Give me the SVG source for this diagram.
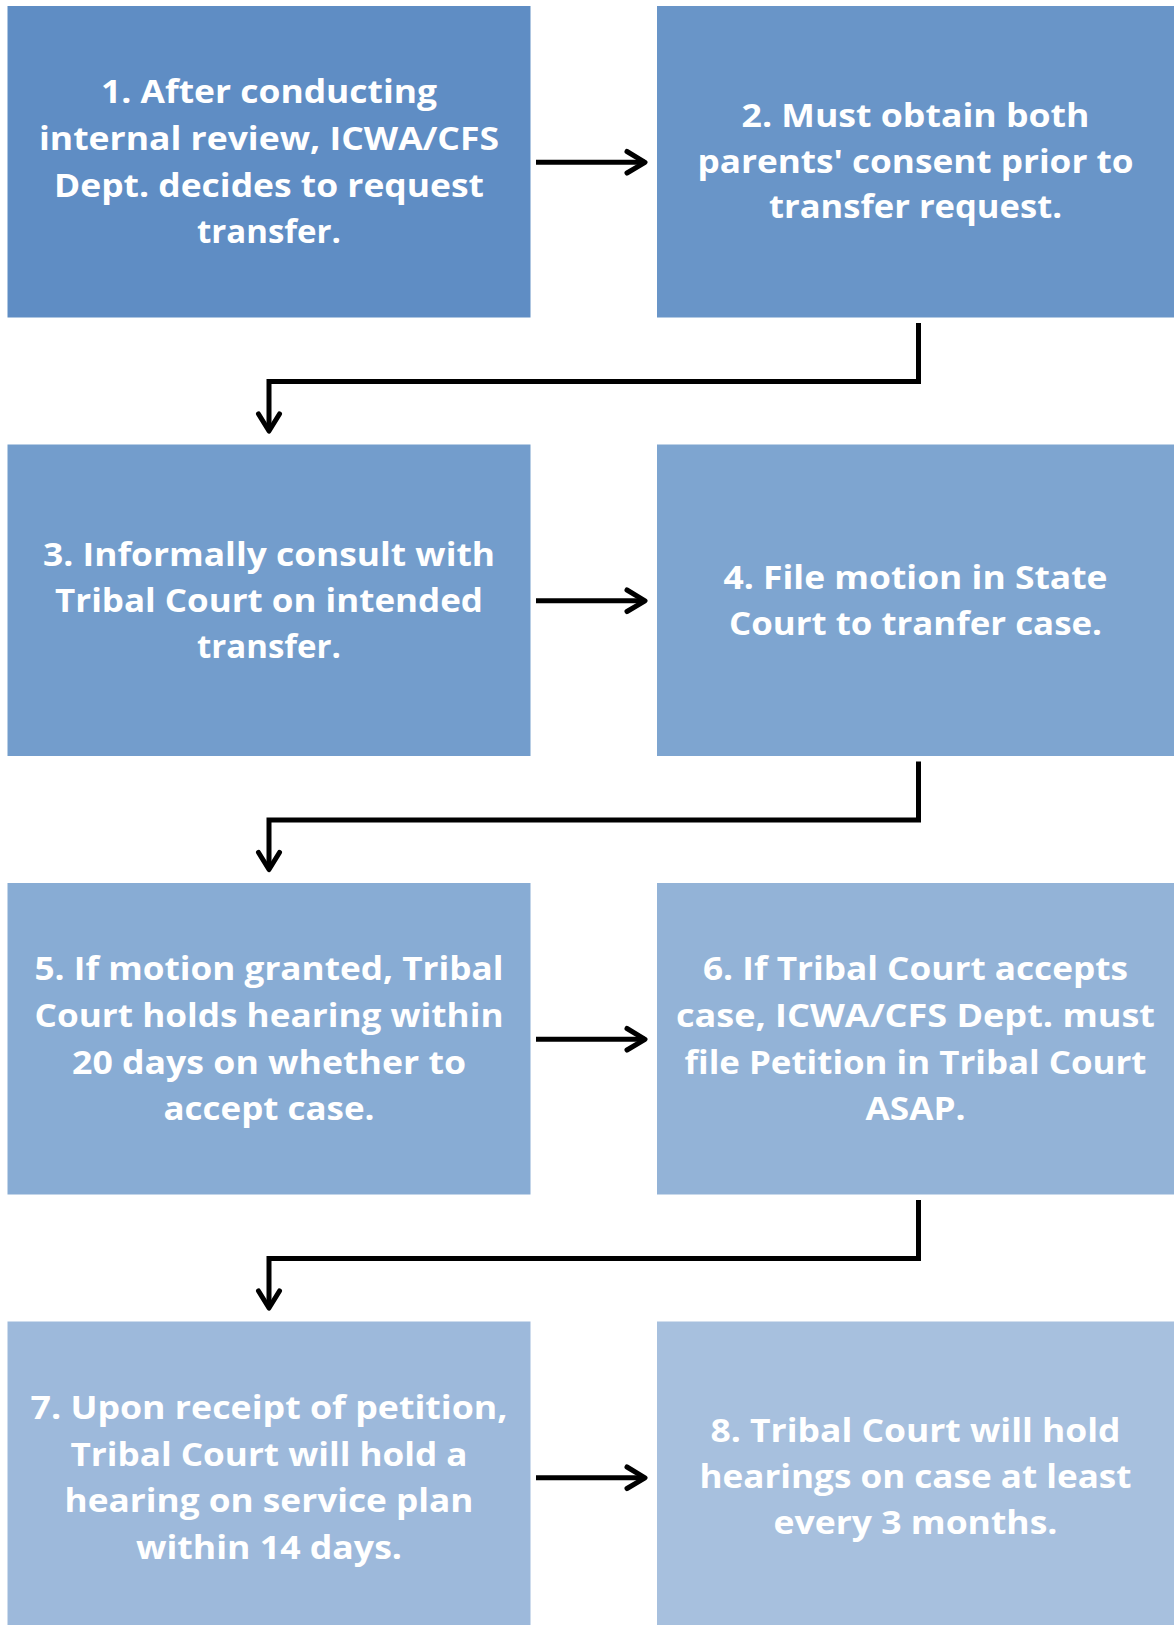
<svg xmlns="http://www.w3.org/2000/svg" width="1174" height="1625" viewBox="0 0 1174 1625">
<defs>
<style>
.t{font-family:"Open Sans",Lato,"Liberation Sans",sans-serif;font-weight:700;font-size:33px;fill:#ffffff;text-anchor:middle}
.c{fill:none;stroke:#000;stroke-width:5;stroke-linejoin:miter}
.h{fill:none;stroke:#000;stroke-width:5;stroke-linecap:round;stroke-linejoin:round}
</style>
</defs>
<rect width="1174" height="1625" fill="#ffffff"/>
<g id="node1"><rect x="7.5" y="6" width="523" height="311.5" fill="#5f8dc4"/>
<text class="t" x="269" y="103.3" textLength="336" lengthAdjust="spacingAndGlyphs">1. After conducting</text>
<text class="t" x="269" y="150" textLength="460" lengthAdjust="spacingAndGlyphs">internal review, ICWA/CFS</text>
<text class="t" x="269" y="196.7" textLength="430" lengthAdjust="spacingAndGlyphs">Dept. decides to request</text>
<text class="t" x="269" y="243.3" textLength="144" lengthAdjust="spacingAndGlyphs">transfer.</text></g>
<g id="node2"><rect x="657" y="6" width="517" height="311.5" fill="#6995c8"/>
<text class="t" x="915.5" y="126.7" textLength="348" lengthAdjust="spacingAndGlyphs">2. Must obtain both</text>
<text class="t" x="915.5" y="172.7" textLength="436" lengthAdjust="spacingAndGlyphs">parents' consent prior to</text>
<text class="t" x="915.5" y="218.3" textLength="293" lengthAdjust="spacingAndGlyphs">transfer request.</text></g>
<g id="node3"><rect x="7.5" y="444.5" width="523" height="311.5" fill="#739dcc"/>
<text class="t" x="269" y="565.5" textLength="452" lengthAdjust="spacingAndGlyphs">3. Informally consult with</text>
<text class="t" x="269" y="612" textLength="428" lengthAdjust="spacingAndGlyphs">Tribal Court on intended</text>
<text class="t" x="269" y="658" textLength="144" lengthAdjust="spacingAndGlyphs">transfer.</text></g>
<g id="node4"><rect x="657" y="444.5" width="517" height="311.5" fill="#7ea5d0"/>
<text class="t" x="915.5" y="589.3" textLength="384" lengthAdjust="spacingAndGlyphs">4. File motion in State</text>
<text class="t" x="915.5" y="635" textLength="373" lengthAdjust="spacingAndGlyphs">Court to tranfer case.</text></g>
<g id="node5"><rect x="7.5" y="883" width="523" height="311.5" fill="#88acd4"/>
<text class="t" x="269" y="980.2" textLength="469" lengthAdjust="spacingAndGlyphs">5. If motion granted, Tribal</text>
<text class="t" x="269" y="1026.8" textLength="469" lengthAdjust="spacingAndGlyphs">Court holds hearing within</text>
<text class="t" x="269" y="1073.5" textLength="394" lengthAdjust="spacingAndGlyphs">20 days on whether to</text>
<text class="t" x="269" y="1120.2" textLength="211" lengthAdjust="spacingAndGlyphs">accept case.</text></g>
<g id="node6"><rect x="657" y="883" width="517" height="311.5" fill="#93b3d7"/>
<text class="t" x="915.5" y="980.2" textLength="425" lengthAdjust="spacingAndGlyphs">6. If Tribal Court accepts</text>
<text class="t" x="915.5" y="1026.8" textLength="479" lengthAdjust="spacingAndGlyphs">case, ICWA/CFS Dept. must</text>
<text class="t" x="915.5" y="1073.5" textLength="462" lengthAdjust="spacingAndGlyphs">file Petition in Tribal Court</text>
<text class="t" x="915.5" y="1120.2" textLength="100" lengthAdjust="spacingAndGlyphs">ASAP.</text></g>
<g id="node7"><rect x="7.5" y="1321.5" width="523" height="303.5" fill="#9db9db"/>
<text class="t" x="269" y="1418.8" textLength="477" lengthAdjust="spacingAndGlyphs">7. Upon receipt of petition,</text>
<text class="t" x="269" y="1465.5" textLength="397" lengthAdjust="spacingAndGlyphs">Tribal Court will hold a</text>
<text class="t" x="269" y="1512.2" textLength="409" lengthAdjust="spacingAndGlyphs">hearing on service plan</text>
<text class="t" x="269" y="1558.8" textLength="266" lengthAdjust="spacingAndGlyphs">within 14 days.</text></g>
<g id="node8"><rect x="657" y="1321.5" width="517" height="303.5" fill="#a7c0de"/>
<text class="t" x="915.5" y="1442.2" textLength="410" lengthAdjust="spacingAndGlyphs">8. Tribal Court will hold</text>
<text class="t" x="915.5" y="1488.2" textLength="432" lengthAdjust="spacingAndGlyphs">hearings on case at least</text>
<text class="t" x="915.5" y="1533.8" textLength="284" lengthAdjust="spacingAndGlyphs">every 3 months.</text></g>
<g id="connectors">
<path class="c" d="M536 162.3H645"/><path class="h" d="M627 151.5L645 162.3L627 173"/>
<path class="c" d="M536 600.8H645"/><path class="h" d="M627 590L645 600.8L627 611.5"/>
<path class="c" d="M536 1039.3H645"/><path class="h" d="M627 1028.5L645 1039.3L627 1050"/>
<path class="c" d="M536 1477.8H645"/><path class="h" d="M627 1467L645 1477.8L627 1488.5"/>
<path class="c" d="M918.5 323V381.5H269V430"/><path class="h" d="M258.5 414L269 431L279.5 414"/>
<path class="c" d="M918.5 761.5V820H269V868.5"/><path class="h" d="M258.5 852.5L269 869.5L279.5 852.5"/>
<path class="c" d="M918.5 1200V1258.5H269V1307"/><path class="h" d="M258.5 1291L269 1308L279.5 1291"/>
</g>
</svg>
